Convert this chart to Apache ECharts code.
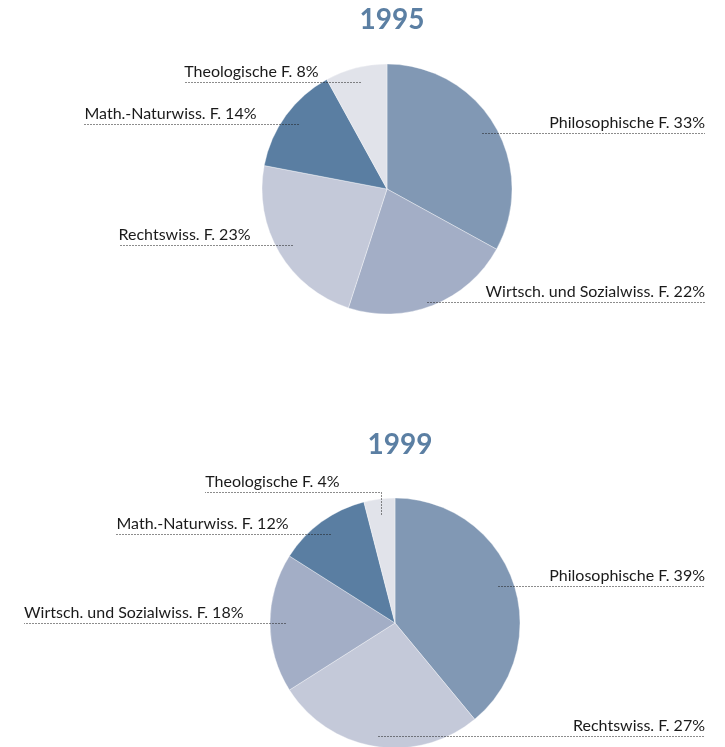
<!DOCTYPE html>
<html>
<head>
<meta charset="utf-8">
<title>Fakultäten 1995 / 1999</title>
<script src="https://cdn.jsdelivr.net/npm/echarts@6/dist/echarts.min.js"></script>
<style>
html, body { margin: 0; padding: 0; background: #fff; }
#chart { width: 725px; height: 747px; }
</style>
</head>
<body>
<div id="chart"></div>
<script>
// slices clockwise from 12 o'clock
const names1995 = ['Philosophische F.', 'Wirtsch. und Sozialwiss. F.', 'Rechtswiss. F.', 'Math.-Naturwiss. F.', 'Theologische F.']
const values1995 = [33, 22, 23, 14, 8]
const names1999 = ['Philosophische F.', 'Rechtswiss. F.', 'Wirtsch. und Sozialwiss. F.', 'Math.-Naturwiss. F.', 'Theologische F.']
const values1999 = [39, 27, 18, 12, 4]
const years = ['1995', '1999']

const colors = {
  'Philosophische F.': '#8198b4',
  'Wirtsch. und Sozialwiss. F.': '#a3aec6',
  'Rechtswiss. F.': '#c4c9d9',
  'Math.-Naturwiss. F.': '#5a7ea2',
  'Theologische F.': '#e1e3ea'
}

// geometry
const R = 125
const centers = [[387, 189], [395, 623]]
const K = 0.88 // leader starts at this fraction of the radius
const BOTTOM = 0.9 // bottom labels sit this far below the centre (x R)
const GAP = 42 // left labels end this far before the leader start
const MIN_DY = 42 // min vertical distance between labels on one side
const RIGHT_EDGE = 705

function leaders(values, c) {
  const total = values.reduce((a, b) => a + b, 0)
  let acc = 0
  const out = values.map(v => {
    const mid = (acc + v / 2) / total * 2 * Math.PI
    acc += v
    const ax = Math.round(c[0] + K * R * Math.sin(mid)) + 0.5
    let ay = c[1] - K * R * Math.cos(mid)
    // slices around the bottom: line runs along the lower rim
    if (Math.cos(mid) < -0.7) ay = Math.max(ay, c[1] + BOTTOM * R)
    ay = Math.round(ay) + 0.5
    // slices just past the bottom still get a right label
    return { ax: ax, ay: ay, y: ay, right: mid < Math.PI * 1.1 }
  })
  for (const side of [true, false]) {
    const items = out.filter(o => o.right === side).sort((a, b) => b.y - a.y)
    for (let i = 1; i < items.length; i++) {
      if (items[i].y > items[i - 1].y - MIN_DY) items[i].y = items[i - 1].y - MIN_DY
    }
  }
  return out
}

const layouts = [leaders(values1995, centers[0]), leaders(values1999, centers[1])]

function labelLayout(params) {
  const L = layouts[params.seriesIndex - 2][params.dataIndex]
  const w = params.labelRect.width
  if (L.right) {
    return {
      x: RIGHT_EDGE, y: L.y - 1.5, align: 'right', verticalAlign: 'bottom',
      labelLinePoints: [[L.ax, L.ay], [L.ax, L.y], [RIGHT_EDGE, L.y]]
    }
  }
  const xr = L.ax - GAP
  return {
    x: xr, y: L.y - 1.5, align: 'right', verticalAlign: 'bottom',
    labelLinePoints: [[L.ax, L.ay], [L.ax, L.y], [Math.round(xr - w), L.y]]
  }
}

function pieSeries(names, values, idx, overlay) {
  return {
    type: 'pie',
    center: centers[idx],
    radius: R,
    startAngle: 90,
    clockwise: true,
    avoidLabelOverlap: false,
    animation: false,
    silent: true,
    z: overlay ? 5 : 2,
    data: names.map((n, i) => ({
      name: n,
      value: values[i],
      itemStyle: { color: overlay ? 'rgba(0,0,0,0)' : colors[n] }
    })),
    itemStyle: overlay ? { borderWidth: 0 } : { borderColor: 'rgba(255,255,255,0.6)', borderWidth: 0.6 },
    label: {
      show: overlay,
      position: 'outside',
      formatter: '{b} {c}%',
      fontFamily: 'Lato',
      fontSize: 16,
      lineHeight: 19,
      color: '#1a1a1a'
    },
    labelLine: {
      show: overlay,
      smooth: false,
      lineStyle: { color: '#1a1a1a', width: 1, type: [1, 2] }
    },
    labelLayout: overlay ? labelLayout : null
  }
}

const chart = echarts.init(document.getElementById('chart'))
chart.setOption({
  backgroundColor: '#fff',
  title: [
    { text: years[0], left: 387, top: 1, textAlign: 'center' },
    { text: years[1], left: 395, top: 426, textAlign: 'center' }
  ].map(t => Object.assign(t, {
    textStyle: { fontFamily: 'Lato', fontWeight: 'bold', fontSize: 28, color: '#5b7fa3' }
  })),
  series: [
    pieSeries(names1995, values1995, 0, false),
    pieSeries(names1999, values1999, 1, false),
    pieSeries(names1995, values1995, 0, true),
    pieSeries(names1999, values1999, 1, true)
  ]
})
</script>
</body>
</html>
